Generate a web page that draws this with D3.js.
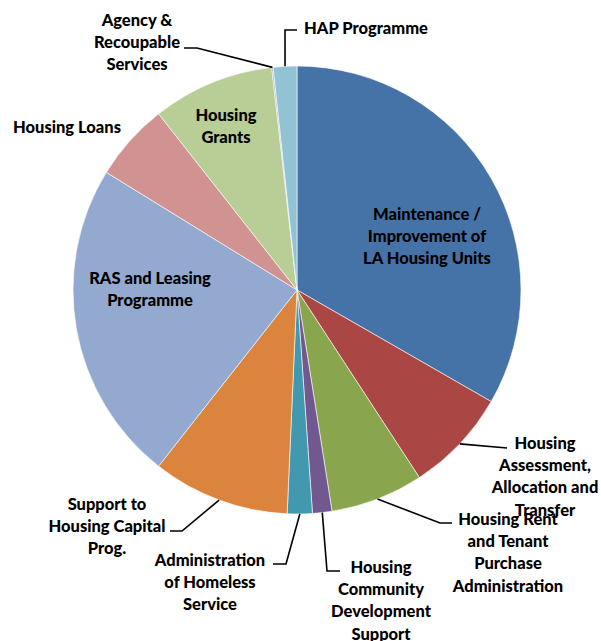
<!DOCTYPE html>
<html><head><meta charset="utf-8">
<script src="https://cdn.jsdelivr.net/npm/d3@7"></script>
<style>body{margin:0;background:#fff}svg{display:block}</style>
</head><body>
<svg id="c" width="601" height="641"></svg>
<script>
// Data
const categories = [
  "Maintenance / Improvement of LA Housing Units",
  "Housing Assessment, Allocation and Transfer",
  "Housing Rent and Tenant Purchase Administration",
  "Housing Community Development Support",
  "Administration of Homeless Service",
  "Support to Housing Capital Prog.",
  "RAS and Leasing Programme",
  "Housing Loans",
  "Housing Grants",
  "Agency & Recoupable Services",
  "HAP Programme"
];
const values = [33.3, 7.5, 6.7, 1.4, 1.8, 9.9, 23.2, 5.6, 8.8, 0.1, 1.7];
const colors = ["#4572A7","#AA4643","#89A54E","#71588F","#4198AF","#DB843D","#93A9CF","#D19392","#B9CD96","#A99BBD","#92C3D5"];
const labelLines = [
  ["Maintenance /","Improvement of","LA Housing Units"],
  ["Housing","Assessment,","Allocation and","Transfer"],
  ["Housing Rent","and Tenant","Purchase","Administration"],
  ["Housing","Community","Development","Support"],
  ["Administration","of Homeless","Service"],
  ["Support to","Housing Capital","Prog."],
  ["RAS and Leasing","Programme"],
  ["Housing Loans"],
  ["Housing","Grants"],
  ["Agency &","Recoupable","Services"],
  ["HAP Programme"]
];

// Layout (not data)
const cx = 297, cy = 290, R = 224;
const lineH = 22.3;
const layout = [
  {x:427, y:214},
  {x:545, y:443, lead:[[507,448]]},
  {x:508, y:519, lead:[[440,523],[452,523]]},
  {x:381, y:567, lead:[[327,571],[340,571]]},
  {x:210, y:560, lead:[[286,564],[273,564]]},
  {x:107, y:504, lead:[[182,531],[170,531]]},
  {x:150, y:278},
  {x:67,  y:127},
  {x:226, y:115},
  {x:137, y:20, lead:[[197,48],[184,48]]},
  {x:366, y:28, lead:[[285,30],[297,30]]}
];

const svg = d3.select("#c");
const g = svg.append("g").attr("transform", `translate(${cx},${cy})`);
const pie = d3.pie().sort(null).value(d => d);
const arcs = pie(values);
const arc = d3.arc().innerRadius(0).outerRadius(R);
const edge = d3.arc().innerRadius(R).outerRadius(R);

g.selectAll("path").data(arcs).join("path")
  .attr("d", arc)
  .attr("fill", (d,i) => colors[i])
  .attr("stroke", "#fff").attr("stroke-width", 0.6);

// Leaders
arcs.forEach((d,i) => {
  const L = layout[i];
  if (!L.lead) return;
  const p = edge.centroid(d);
  const pts = [[p[0]+cx, p[1]+cy], ...L.lead];
  svg.append("path")
    .attr("d", d3.line()(pts))
    .attr("fill","none").attr("stroke","#000").attr("stroke-width",1.6);
});

// Labels
arcs.forEach((d,i) => {
  const L = layout[i];
  const t = svg.append("text")
    .attr("text-anchor", "middle")
    .attr("font-family", "Lato, 'Open Sans', sans-serif")
    .attr("font-weight", 900)
    .attr("font-size", 16.5)
    .attr("fill", "#000");
  labelLines[i].forEach((s,k) => {
    t.append("tspan").attr("x", L.x).attr("y", L.y + k*lineH).attr("dy","0.35em").text(s);
  });
});
</script>
</body></html>
